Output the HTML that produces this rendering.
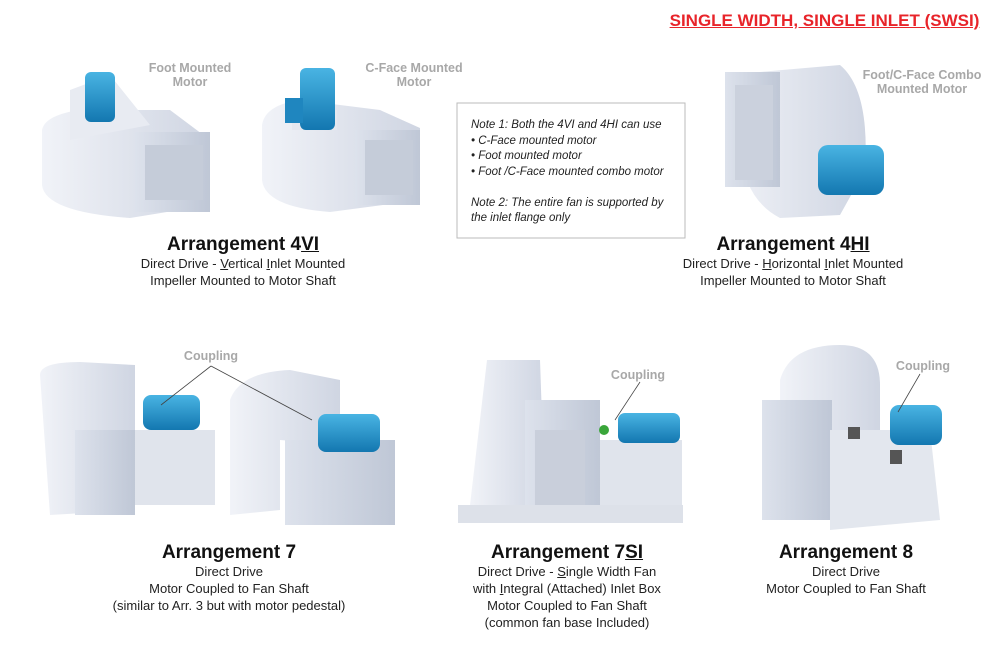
<!DOCTYPE html>
<html><head><meta charset="utf-8"><style>
body{margin:0;width:1006px;height:672px;background:#fff;position:relative;overflow:hidden;font-family:"Liberation Sans",sans-serif;}
.t{position:absolute;text-align:center;white-space:nowrap;}
.g{color:#a8a8a8;font-weight:bold;font-size:12.5px;line-height:14px;}
.h{font-weight:bold;font-size:19px;color:#111;line-height:22px;}
.s{font-size:13px;color:#222;line-height:17px;}
u{text-decoration:underline;}
svg{position:absolute;left:0;top:0;}
</style></head><body>
<svg width="1006" height="672">
<defs>
<linearGradient id="w" x1="0" x2="1"><stop offset="0" stop-color="#f1f3f8"/><stop offset="1" stop-color="#cfd5e2"/></linearGradient>
<linearGradient id="d" x1="0" x2="1"><stop offset="0" stop-color="#dde2ec"/><stop offset="1" stop-color="#bfc7d6"/></linearGradient>
<linearGradient id="b" x1="0" y1="0" x2="0" y2="1"><stop offset="0" stop-color="#49b4e3"/><stop offset="1" stop-color="#1377b0"/></linearGradient>
</defs>
<!-- 4VI foot -->
<path d="M42 130 Q45 115 80 110 L170 110 L210 140 L210 205 L130 218 Q45 212 42 185Z" fill="url(#w)"/>
<path d="M70 90 L110 75 L150 125 L70 140Z" fill="#e8ebf2"/>
<rect x="135" y="132" width="75" height="80" fill="url(#d)"/>
<rect x="145" y="145" width="58" height="55" fill="#c5ccd9"/>
<rect x="85" y="72" width="30" height="50" rx="6" fill="url(#b)"/>
<!-- 4VI cface -->
<path d="M262 125 Q265 105 300 100 L380 110 L420 128 L420 200 L330 212 Q265 207 262 180Z" fill="url(#w)"/>
<rect x="355" y="130" width="65" height="75" fill="url(#d)"/>
<rect x="365" y="140" width="48" height="55" fill="#c5ccd9"/>
<rect x="292" y="110" width="45" height="20" fill="#e5e8ef"/>
<rect x="300" y="68" width="35" height="62" rx="6" fill="url(#b)"/>
<rect x="285" y="98" width="18" height="25" fill="#1f86bf"/>
<!-- 4HI -->
<path d="M725 75 L840 65 Q870 90 865 170 L840 215 L780 218 Q745 200 740 150Z" fill="url(#w)"/>
<rect x="725" y="72" width="55" height="115" fill="url(#d)"/>
<rect x="735" y="85" width="38" height="95" fill="#cbd1dd"/>
<rect x="818" y="145" width="66" height="50" rx="10" fill="url(#b)"/>
<!-- Arr 7 -->
<path d="M40 375 Q40 362 80 362 L135 365 L135 510 L50 515Z" fill="url(#w)"/>
<rect x="75" y="430" width="60" height="85" fill="url(#d)"/>
<rect x="135" y="430" width="80" height="75" fill="#e0e4ec"/>
<rect x="143" y="395" width="57" height="35" rx="8" fill="url(#b)"/>
<path d="M230 400 Q240 372 290 370 L340 380 L340 445 L280 440 L280 510 L230 515Z" fill="url(#w)"/>
<rect x="285" y="440" width="110" height="85" fill="url(#d)"/>
<rect x="318" y="414" width="62" height="38" rx="8" fill="url(#b)"/>
<line x1="211" y1="366" x2="161" y2="405" stroke="#444" stroke-width="0.8"/>
<line x1="211" y1="366" x2="312" y2="420" stroke="#444" stroke-width="0.8"/>
<!-- 7SI -->
<rect x="458" y="505" width="225" height="18" fill="#dde1e9"/>
<path d="M487 360 L540 360 L545 505 L470 505Z" fill="url(#w)"/>
<rect x="525" y="400" width="75" height="105" fill="url(#d)"/>
<rect x="535" y="430" width="50" height="75" fill="#c9cfdb"/>
<rect x="600" y="440" width="82" height="65" fill="#e0e4ec"/>
<rect x="618" y="413" width="62" height="30" rx="7" fill="url(#b)"/>
<circle cx="604" cy="430" r="5" fill="#3aa63a"/>
<line x1="640" y1="382" x2="615" y2="420" stroke="#444" stroke-width="0.8"/>
<!-- Arr 8 -->
<path d="M780 380 Q790 345 840 345 Q880 345 880 385 L880 500 L780 500Z" fill="url(#w)"/>
<rect x="762" y="400" width="70" height="120" fill="url(#d)"/>
<path d="M830 430 L930 430 L940 520 L830 530Z" fill="#e3e7ee"/>
<rect x="848" y="427" width="12" height="12" fill="#555"/>
<rect x="890" y="450" width="12" height="14" fill="#555"/>
<rect x="890" y="405" width="52" height="40" rx="9" fill="url(#b)"/>
<line x1="920" y1="374" x2="898" y2="412" stroke="#444" stroke-width="0.8"/>
<rect x="457" y="103" width="228" height="135" fill="#fff" stroke="#bbb" stroke-width="1"/>
</svg>
<div class="t" style="left:668px;top:11px;width:313px;color:#e8242a;font-weight:bold;font-size:17px;text-decoration:underline;">SINGLE WIDTH, SINGLE INLET (SWSI)</div>
<div class="t g" style="left:130px;top:61px;width:120px;">Foot Mounted<br>Motor</div>
<div class="t g" style="left:354px;top:61px;width:120px;">C-Face Mounted<br>Motor</div>
<div class="t g" style="left:852px;top:68px;width:140px;">Foot/C-Face Combo<br>Mounted Motor</div>
<div class="t" style="left:471px;top:118px;text-align:left;font-style:italic;font-size:11.5px;line-height:15.5px;color:#222;">Note 1: Both the 4VI and 4HI can use<br>• C-Face mounted motor<br>• Foot mounted motor<br>• Foot /C-Face mounted combo motor<br><br>Note 2: The entire fan is supported by<br>the inlet flange only</div>
<div class="t h" style="left:93px;top:234px;width:300px;">Arrangement 4<u>VI</u></div>
<div class="t s" style="left:93px;top:255px;width:300px;">Direct Drive - <u>V</u>ertical <u>I</u>nlet Mounted<br>Impeller Mounted to Motor Shaft</div>
<div class="t h" style="left:643px;top:234px;width:300px;">Arrangement 4<u>HI</u></div>
<div class="t s" style="left:643px;top:255px;width:300px;">Direct Drive - <u>H</u>orizontal <u>I</u>nlet Mounted<br>Impeller Mounted to Motor Shaft</div>
<div class="t g" style="left:161px;top:349px;width:100px;">Coupling</div>
<div class="t g" style="left:588px;top:368px;width:100px;">Coupling</div>
<div class="t g" style="left:873px;top:359px;width:100px;">Coupling</div>
<div class="t h" style="left:79px;top:542px;width:300px;">Arrangement 7</div>
<div class="t s" style="left:79px;top:563px;width:300px;">Direct Drive<br>Motor Coupled to Fan Shaft<br>(similar to Arr. 3 but with motor pedestal)</div>
<div class="t h" style="left:417px;top:542px;width:300px;">Arrangement 7<u>SI</u></div>
<div class="t s" style="left:417px;top:563px;width:300px;">Direct Drive - <u>S</u>ingle Width Fan<br>with <u>I</u>ntegral (Attached) Inlet Box<br>Motor Coupled to Fan Shaft<br>(common fan base Included)</div>
<div class="t h" style="left:696px;top:542px;width:300px;">Arrangement 8</div>
<div class="t s" style="left:696px;top:563px;width:300px;">Direct Drive<br>Motor Coupled to Fan Shaft</div>
</body></html>
